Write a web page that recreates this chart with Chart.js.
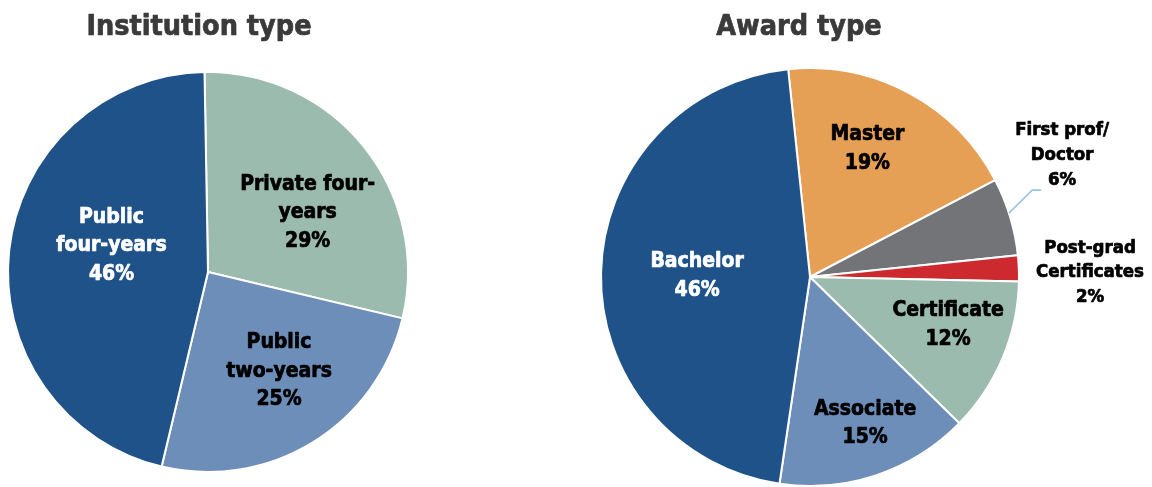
<!DOCTYPE html>
<html>
<head>
<meta charset="utf-8">
<script src="https://cdn.jsdelivr.net/npm/chart.js@4/dist/chart.umd.min.js"></script>
<style>
  html, body { margin: 0; padding: 0; background: #fff; }
  #wrap { position: relative; width: 1152px; height: 487px; }
  #wrap canvas { position: absolute; top: 0; }
  #inst-chart { left: 0; }
  #award-chart { left: 576px; }
</style>
</head>
<body>
<div id="wrap">
  <canvas id="inst-chart" width="576" height="487"></canvas>
  <canvas id="award-chart" width="576" height="487"></canvas>
</div>
<script>
// data
const instLabels = ["Private four-years", "Public two-years", "Public four-years"];
const instValues = [29, 25, 46];
const instLines = [["Private four-", "years"], ["Public", "two-years"], ["Public", "four-years"]];

const awardLabels = ["Master", "First prof/Doctor", "Post-grad Certificates", "Certificate", "Associate", "Bachelor"];
const awardValues = [19, 6, 2, 12, 15, 46];
const awardLines = [["Master"], ["First prof/", "Doctor"], ["Post-grad", "Certificates"], ["Certificate"], ["Associate"], ["Bachelor"]];

const FONT = "'DejaVu Sans Condensed', 'Liberation Sans Narrow', 'DejaVu Sans', sans-serif";

// label placement: fraction of radius, angle nudge (deg), font size, line height, text colour
const instPlace = [
  { f: 0.58, da: 8, size: 21, lh: 28.5, color: "#000" },
  { f: 0.61, da: -4, size: 21, lh: 28.5, color: "#000" },
  { f: 0.50, da: 9, size: 21, lh: 28.5, color: "#fff" },
];
const awardPlace = [
  { f: 0.67, da: -4, size: 21, lh: 28.5, color: "#000" },
  { f: 1.34, da: -9, size: 18.5, lh: 25, color: "#000", leader: true },
  { f: 1.34, da: 1.5, size: 18.5, lh: 24.5, color: "#000" },
  { f: 0.70, da: -3.5, size: 21, lh: 29, color: "#000" },
  { f: 0.75, da: -2, size: 21, lh: 28.5, color: "#000" },
  { f: 0.54, da: -0.7, size: 21, lh: 28.5, color: "#fff" },
];

// draw text a touch heavier than the plain bold face
function heavyText(ctx, t, x, y, color) {
  ctx.fillStyle = color;
  ctx.strokeStyle = color;
  ctx.lineWidth = 0.7;
  ctx.lineJoin = "round";
  ctx.strokeText(t, x, y);
  ctx.fillText(t, x, y);
}

const sliceLabels = {
  id: "sliceLabels",
  afterDatasetsDraw(chart, args, opts) {
    const ctx = chart.ctx;
    const meta = chart.getDatasetMeta(0);
    const values = chart.data.datasets[0].data;
    ctx.save();
    ctx.textAlign = "center";
    ctx.textBaseline = "middle";
    meta.data.forEach((arc, i) => {
      const p = arc.getProps(["x", "y", "startAngle", "endAngle", "outerRadius"], true);
      const place = opts.place[i];
      const mid = (p.startAngle + p.endAngle) / 2 + place.da * Math.PI / 180;
      const lx = p.x + Math.cos(mid) * p.outerRadius * place.f;
      const ly = p.y + Math.sin(mid) * p.outerRadius * place.f;
      const lines = opts.lines[i].concat([values[i] + "%"]);
      ctx.font = "bold " + place.size + "px " + FONT;
      const top = ly - (lines.length - 1) * place.lh / 2;
      lines.forEach((t, j) => heavyText(ctx, t, lx, top + j * place.lh, place.color));
      if (place.leader) {
        const a = (p.startAngle + p.endAngle) / 2 - 1 * Math.PI / 180;
        ctx.strokeStyle = "#9DC3E6";
        ctx.lineWidth = 1.6;
        ctx.beginPath();
        ctx.moveTo(p.x + Math.cos(a) * p.outerRadius, p.y + Math.sin(a) * p.outerRadius);
        ctx.lineTo(lx - 30, ly + 35);
        ctx.lineTo(lx - 21, ly + 35);
        ctx.stroke();
      }
    });
    // title
    ctx.font = "bold 28.5px " + FONT;
    ctx.textBaseline = "alphabetic";
    heavyText(ctx, opts.title, opts.titleX, 35, "#3A3A3A");
    ctx.restore();
  },
};

function makePie(canvasId, labels, values, colors, rotation, padding, lines, place, title, titleX) {
  return new Chart(document.getElementById(canvasId), {
    type: "pie",
    data: {
      labels: labels,
      datasets: [{
        data: values,
        backgroundColor: colors,
        borderColor: "#ffffff",
        borderWidth: 2,
      }],
    },
    options: {
      responsive: false,
      animation: false,
      rotation: rotation,
      layout: { padding: padding },
      plugins: {
        legend: { display: false },
        tooltip: { enabled: false },
        sliceLabels: { lines: lines, place: place, title: title, titleX: titleX },
      },
    },
    plugins: [sliceLabels],
  });
}

makePie(
  "inst-chart",
  instLabels,
  instValues,
  ["#9BBBAE", "#6E8EBA", "#1F5289"],
  -1,
  { left: 7, top: 71, right: 167, bottom: 14 },
  instLines,
  instPlace,
  "Institution type",
  199
);

makePie(
  "award-chart",
  awardLabels,
  awardValues,
  ["#E5A056", "#737477", "#CC2A2F", "#9BBBAE", "#6E8EBA", "#1F5289"],
  -6,
  { left: 24, top: 67, right: 132, bottom: 0 },
  awardLines,
  awardPlace,
  "Award type",
  223
);
</script>
</body>
</html>
